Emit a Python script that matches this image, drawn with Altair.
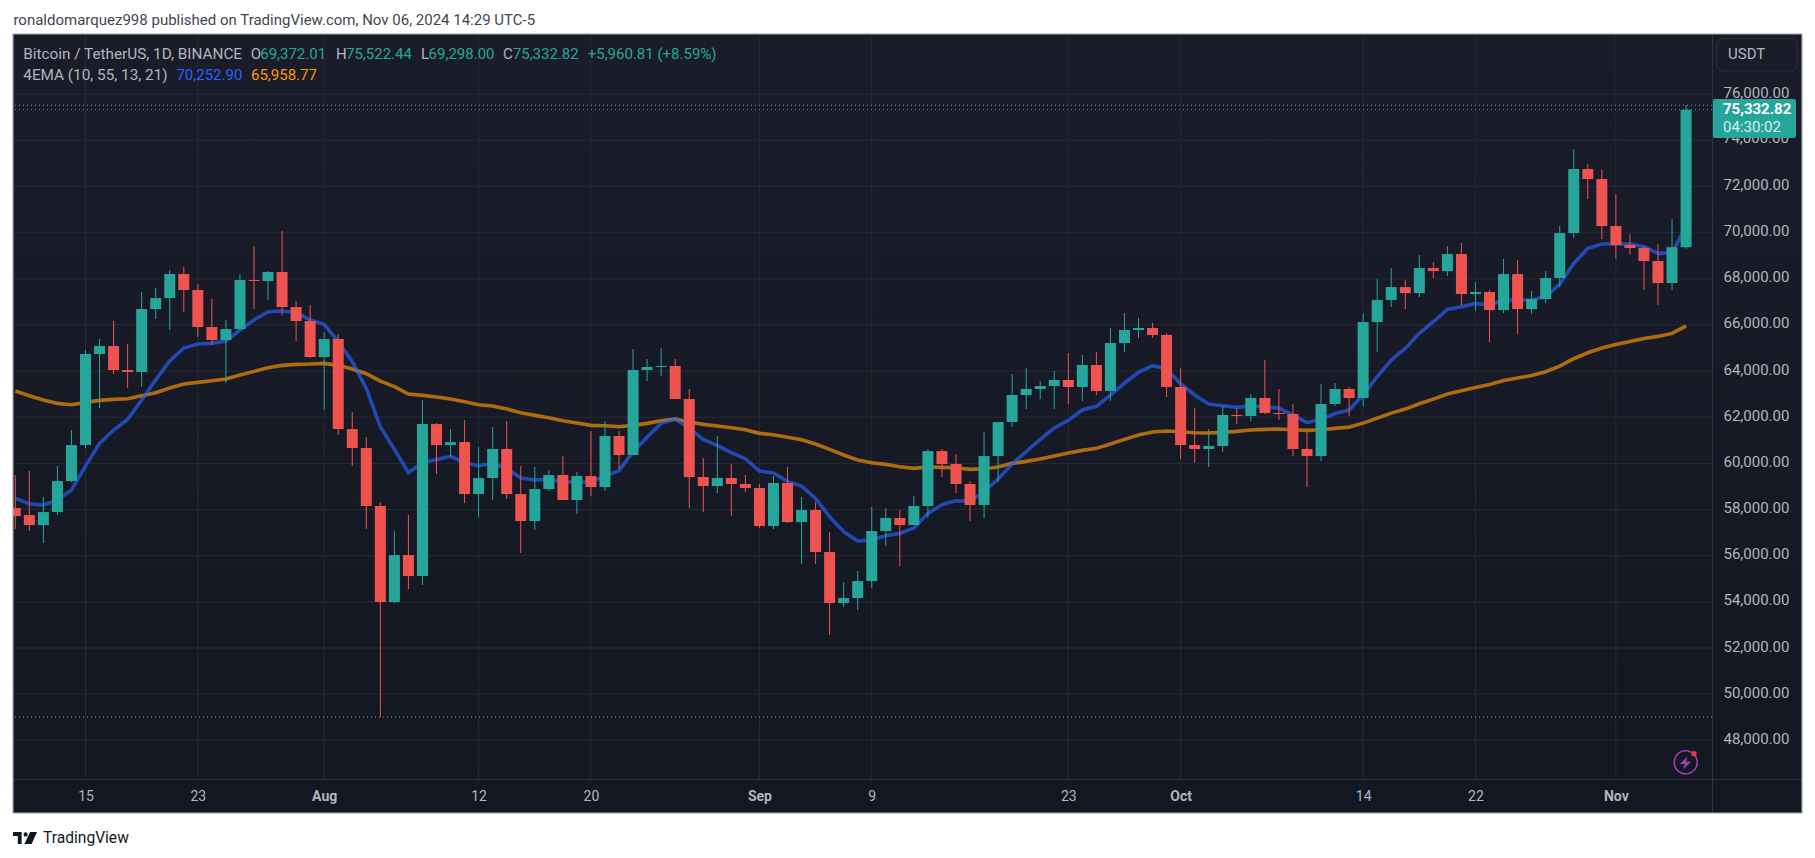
import altair as alt
import pandas as pd

first_day = "2024-07-10"
closes = [57718,57328,57892,59235,60796,64741,65087,64047,63960,66691,67168,68209,67515,65911,65348,65824,67948,67905,68295,66778,
66171,64611,65391,61489,60666,58151,53990,56027,55117,61706,60796,60926,58673,59367,60624,58673,57502,58890,59497,58413,
59453,58977,61187,60364,64048,64179,64222,62791,59410,59020,59367,59107,58933,57286,59150,57459,57980,56159,53948,54165,
54902,57069,57633,57329,58154,60537,59974,59107,58196,60320,61794,62965,63225,63355,63615,63312,64265,63138,65219,65782,
65869,65566,63312,60797,60624,60754,62098,62054,62835,62184,62141,60624,60320,62575,63225,62832,66126,67080,67643,67383,
68467,68337,69074,67340,67427,66646,68207,66690,67123,68034,69984,72759,72325,70288,69464,69334,68771,67817,69372.01,75332.82]
opens = [58065,57761,57328,57892,59235,60796,64741,65087,64047,63960,66691,67168,68209,67515,65911,65348,65824,67948,67905,68295,
66778,66171,64611,65391,61489,60666,58151,53990,56027,55117,61706,60796,60926,58673,59367,60624,58673,57502,58890,59497,
58413,59453,58977,61187,60364,64048,64179,64222,62791,59410,59020,59367,59107,58933,57286,59150,57459,57980,56159,53948,
54165,54902,57069,57633,57329,58154,60537,59974,59107,58196,60320,61794,62965,63225,63355,63615,63312,64265,63138,65219,
65782,65869,65566,63312,60797,60624,60754,62098,62054,62835,62184,62141,60624,60320,62575,63225,62832,66126,67080,67643,
67383,68467,68337,69074,67340,67427,66646,68207,66690,67123,68034,69984,72759,72325,70288,69464,69334,68771,67817,69372.01]
highs = [59495,59669,58541,59885,61446,64914,65391,66171,65174,67428,67602,68382,68512,67775,67125,66214,68209,69422,68339,70073,
67038,66865,65694,65608,62226,61142,58325,57067,57761,62746,61750,61489,61881,60711,61578,61838,59887,59844,59714,60320,
59627,61404,61838,61404,64959,64525,65002,64525,63225,60234,61187,59974,59497,59107,59453,59844,58543,58326,57026,54858,
55335,58110,58066,57980,58587,60624,60624,60407,59236,61361,61794,63875,64135,63572,64005,64785,64699,64829,65869,66519,
66303,66086,65652,64135,62401,61491,62488,62401,63008,64482,63225,62575,61361,63442,63485,63309,66516,67990,68467,67947,
69031,68727,69421,69551,67860,67513,68857,68814,67470,68337,70288,73626,72976,72715,71675,69941,69421,69508,70591,75522.44]
lows = [57154,57067,56548,57761,59192,60666,62400,63874,63267,63310,66258,65781,66561,65478,65131,63483,65781,66691,67082,66431,
65304,64567,62313,61229,59885,57154,49005,53946,54553,54727,59539,60275,58283,57676,58413,58456,56115,57113,58803,58413,
57806,58586,58803,59757,60364,63572,63788,62791,58066,57893,58716,57719,58760,57199,57156,57416,55638,55638,52561,53774,
53644,54598,56419,55553,57330,57634,59410,58716,57504,57633,59193,61578,62358,62791,62358,62575,62705,62965,62705,64829,
65436,65436,62878,60190,60017,59844,60494,61708,61837,62141,61881,60320,58976,60103,62488,62051,62485,64826,66776,66690,
67210,68034,68120,66863,66603,65259,66516,65606,66473,66950,67643,69768,71458,69724,68857,69031,67513,66863,67513,69298]
ema_fast = [58484,58253,58195,58411,58845,59885,60868,61446,61908,62746,63613,64437,65001,65174,65203,65304,65781,66214,66576,66605,
66547,66214,66027,65275,64408,63252,61591,60608,59596,60044,60174,60304,60030,59901,60002,59786,59367,59280,59309,59208,
59193,59193,59453,59685,60508,61130,61736,61924,61520,61043,60768,60465,60205,59670,59583,59222,59020,58485,57690,57040,
56635,56693,56867,56968,57200,57835,58211,58384,58370,58774,59323,59974,60508,61043,61534,61867,62315,62473,62965,63485,
63947,64236,64106,63442,62965,62575,62502,62430,62488,62444,62401,62098,61765,61910,62160,62311,62962,63757,64479,64985,
65635,66141,66675,66791,66935,66863,67080,67080,67080,67225,67774,68669,69320,69508,69522,69508,69392,69103,69132,70252.90]
ema_slow = [63137,62934,62746,62602,62544,62645,62732,62775,62804,62934,63064,63267,63440,63512,63585,63657,63830,63989,64148,64249,
64293,64307,64336,64249,64090,63888,63570,63325,63007,62949,62877,62790,62676,62546,62488,62358,62199,62083,61982,61852,
61751,61650,61635,61592,61650,61736,61852,61924,61794,61693,61621,61549,61462,61303,61245,61130,61028,60841,60610,60364,
60147,60032,59959,59858,59786,59844,59829,59815,59742,59771,59844,60002,60089,60190,60320,60450,60566,60653,60841,61043,
61231,61361,61404,61375,61332,61317,61346,61390,61448,61476,61491,61462,61433,61462,61520,61574,61747,61964,62181,62355,
62586,62788,63005,63149,63294,63424,63597,63699,63814,63973,64219,64537,64797,64999,65158,65288,65418,65505,65635,65958.77]

price_ticks = [48000,50000,52000,54000,56000,58000,60000,62000,64000,66000,68000,70000,72000,74000,76000]
date_ticks = ["2024-07-15","2024-07-23","2024-08-01","2024-08-12","2024-08-20","2024-09-01","2024-09-09",
              "2024-09-23","2024-10-01","2024-10-14","2024-10-22","2024-11-01"]

FONT = "Roboto"
GREEN, RED = "#26a69a", "#ef5350"
TXT = "#b2b5be"

dates = pd.date_range(first_day, periods=len(closes), freq="D").strftime("%Y-%m-%d").tolist()
df = pd.DataFrame(dict(date=dates, open=opens, high=highs, low=lows, close=closes, fast=ema_fast, slow=ema_slow))
df["dir"] = ["up" if c >= o else "down" for o, c in zip(opens, closes)]
one = pd.DataFrame({"a": [0]})


def dt(s):
    y, m, d = map(int, s.split("-"))
    return alt.DateTime(year=y, month=m, date=d, utc=True)


xs = alt.Scale(type="utc", padding=0, domain=[alt.DateTime(year=2024, month=7, date=9, hours=20, minutes=4, utc=True),
                                              alt.DateTime(year=2024, month=11, date=7, hours=20, minutes=19, utc=True)])
ys = alt.Scale(domain=[46323, 78611], nice=False, zero=False, padding=0)
x_axis = alt.Axis(
    values=[dt(s) for s in date_ticks], grid=False, domain=False, ticks=False, zindex=1,
    labelColor=TXT, labelFont=FONT, labelFontSize=14, labelPadding=10, labelOverlap=False, labelFlush=False,
    labelExpr="utcdate(datum.value)==1 ? utcFormat(datum.value,'%b') : utcFormat(datum.value,'%-d')",
    labelFontWeight={"condition": {"test": "utcdate(datum.value)==1", "value": 700}, "value": 400})
y_axis = alt.Axis(
    orient="right", values=[p for p in price_ticks if p != 74000], format=",.2f", grid=False, domain=False,
    ticks=False, zindex=1, labelColor=TXT, labelFont=FONT, labelFontSize=15, labelPadding=11,
    labelOverlap=False, labelFlush=False, labelBaseline="middle", labelOffset=-2)
X = alt.X("date:T", scale=xs, axis=x_axis, title=None)
Y0 = dict(scale=ys, axis=y_axis, title=None)
OX, OY = 13, 34


def label(text, x, y, color=TXT, size=15, weight=400, align="left", font=FONT):
    return alt.Chart(one).mark_text(text=text, font=font, fontSize=size, fontWeight=weight, color=color,
                                    align=align, baseline="middle").encode(x=alt.value(x - OX), y=alt.value(y - OY))


def box(x0, y0, x1, y1, **kw):
    return alt.Chart(one).mark_rect(**kw).encode(x=alt.value(x0 - OX), x2=alt.value(x1 - OX),
                                                 y=alt.value(y0 - OY), y2=alt.value(y1 - OY))


def shape(path, x, y, size, **kw):
    return alt.Chart(one).mark_point(shape=path, size=size, **kw).encode(x=alt.value(x - OX), y=alt.value(y - OY))


panel = box(13, 34, 1802, 813, fill=alt.LinearGradient(
    gradient="linear", x1=0, x2=0, y1=0, y2=1,
    stops=[alt.GradientStop(color="#1a1d29", offset=0), alt.GradientStop(color="#131722", offset=1)]))

grid_v = alt.Chart(pd.DataFrame({"date": date_ticks})).mark_rule(color="#262a35", strokeWidth=1).encode(x=X)
grid_h = alt.Chart(pd.DataFrame({"p": price_ticks})).mark_rule(color="#262a35", strokeWidth=1).encode(
    y=alt.Y("p:Q", **Y0))

levels = pd.DataFrame({"p": [highs[-1], lows[26]]})
lvl = alt.Chart(levels).mark_rule(color="#8f929c", strokeWidth=1, strokeDash=[1, 3]).encode(y=alt.Y("p:Q", **Y0))
lvl2 = alt.Chart(pd.DataFrame({"p": [closes[-1]]})).mark_rule(color=GREEN, strokeWidth=1, strokeDash=[1, 3]).encode(
    y=alt.Y("p:Q", **Y0))

base = alt.Chart(df)
slow = base.mark_line(color="#ff9800", opacity=0.65, strokeWidth=3.6, clip=True).encode(x=X, y=alt.Y("slow:Q", **Y0))
fast = base.mark_line(color="#2962ff", opacity=0.65, strokeWidth=3.6, clip=True).encode(x=X, y=alt.Y("fast:Q", **Y0))

col = alt.Color("dir:N", scale=alt.Scale(domain=["up", "down"], range=[GREEN, RED]), legend=None)
wick = base.mark_rule(strokeWidth=1, clip=True).encode(x=X, y=alt.Y("low:Q", **Y0), y2="high:Q", color=col)
body = base.mark_bar(size=11, clip=True).encode(x=X, y=alt.Y("open:Q", **Y0), y2="close:Q", color=col)

sep_v = box(1712, 34, 1713, 813, fill="#30343f")
sep_h = box(13, 779, 1802, 780, fill="#30343f")

hidden = alt.Chart(pd.DataFrame({"p": [74000]})).mark_text(
    text="74,000.00", font=FONT, fontSize=15, color=TXT, align="left", baseline="middle", dy=-2).encode(
    x=alt.value(1723 - OX), y=alt.Y("p:Q", **Y0))
price_box = box(1713, 99, 1796, 138, fill=GREEN, cornerRadius=2)
border = box(13, 34, 1802, 813, fillOpacity=0, stroke="#a3a6b1", strokeWidth=1.2)

usdt = box(1717, 38.5, 1797, 71, fillOpacity=0, stroke="#2a2e39", strokeWidth=1.2, cornerRadius=6)

texts = [
    label("ronaldomarquez998 published on TradingView.com, Nov 06, 2024 14:29 UTC-5", 13.4, 20, "#434651", 15),
    label("Bitcoin / TetherUS, 1D, BINANCE", 23.3, 54, size=15.3),
    label("O", 250.7, 54), label("69,372.01", 260.2, 54, GREEN),
    label("H", 336, 54), label("75,522.44", 346, 54, GREEN),
    label("L", 421, 54), label("69,298.00", 428.6, 54, GREEN),
    label("C", 503, 54), label("75,332.82", 512.8, 54, GREEN),
    label("+5,960.81 (+8.59%)", 587.7, 54, GREEN),
    label("4EMA (10, 55, 13, 21)", 23.3, 75, size=15.3),
    label("70,252.90", 176.4, 75, "#2962ff"),
    label("65,958.77", 251, 75, "#ff9800"),
    label("USDT", 1728, 54),
    label("75,332.82", 1723, 109, "#ffffff", 15, 700),
    label("04:30:02", 1723, 127, "#d4eeeb", 15),
    label("TradingView", 43, 838, "#131722", 15.6),
]

logo = shape("M-1,-0.5H-0.28V0.5H-0.6V-0.17H-1Z M-0.12,-0.3a0.17,0.17 0 1,0 0.34,0a0.17,0.17 0 1,0 -0.34,0Z M0.42,-0.5H1L0.55,0.5H-0.05Z",
             25, 838, 576, filled=True, fill="#131722", strokeWidth=0, opacity=1)
ring = shape("circle", 1685.7, 762.3, 531, filled=False, stroke="#9c3fb0", strokeWidth=1.6, opacity=1)
bolt = shape("M0.3,-1L-0.9,0.15H-0.1L-0.4,1L0.9,-0.2H0.1Z", 1685.5, 763, 169, filled=True, fill="#9c3fb0", strokeWidth=0, opacity=1)
dot = shape("circle", 1694, 753.7, 28, filled=True, fill="#f23645", strokeWidth=0, opacity=1)

chart = alt.layer(
    panel, grid_v, grid_h, lvl, lvl2, slow, fast, wick, body, sep_v, sep_h, hidden, price_box, usdt, border,
    *texts, logo, ring, bolt, dot
).properties(
    width=1699, height=745,
    padding={"left": 5, "top": 26, "right": 93, "bottom": 68},
    autosize=alt.AutoSizeParams(type="none"),
    background="#ffffff",
).configure_view(strokeWidth=0)

chart.save("out.html", embed_options={"renderer": "svg", "actions": False})
